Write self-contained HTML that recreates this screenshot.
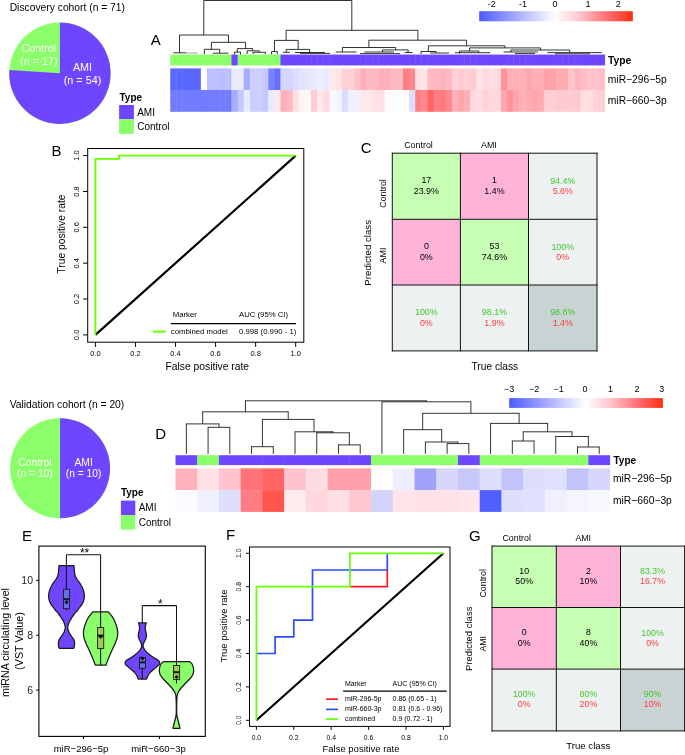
<!DOCTYPE html>
<html><head><meta charset="utf-8"><title>Figure</title>
<style>
html,body{margin:0;padding:0;background:#fff;}
body{width:685px;height:755px;overflow:hidden;font-family:"Liberation Sans",sans-serif;}
svg{display:block;will-change:transform;}
svg text{font-family:"Liberation Sans",sans-serif;}
</style></head><body>
<svg width="685" height="755" viewBox="0 0 685 755">
<rect x="0" y="0" width="685" height="755" fill="#fff"/>
<text x="9.70" y="11.30" font-size="10.3" text-anchor="start" fill="#000" >Discovery cohort (n = 71)</text>
<circle cx="59.9" cy="73.3" r="50.7" fill="#8AFF69"/>
<path d="M59.9,73.3 L59.9,22.599999999999994 A50.7,50.7 0 1 1 9.31,69.94 Z" fill="#7045FF" stroke="none" stroke-width="1" />
<text x="38.80" y="52.00" font-size="10.8" text-anchor="middle" fill="#fff" >Control</text>
<text x="38.80" y="64.90" font-size="10.8" text-anchor="middle" fill="#fff" >(n = 17)</text>
<text x="82.50" y="71.20" font-size="10.8" text-anchor="middle" fill="#fff" >AMI</text>
<text x="82.50" y="84.00" font-size="10.8" text-anchor="middle" fill="#fff" >(n = 54)</text>
<text x="119.50" y="100.90" font-size="10" text-anchor="start" fill="#000" font-weight="bold" >Type</text>
<rect x="119.10" y="105.00" width="14.80" height="14.30" fill="#7045FF" stroke="none" stroke-width="1" />
<rect x="119.10" y="119.30" width="14.80" height="14.60" fill="#8AFF69" stroke="none" stroke-width="1" />
<text x="137.20" y="115.60" font-size="10" text-anchor="start" fill="#000" >AMI</text>
<text x="137.20" y="130.30" font-size="10" text-anchor="start" fill="#000" >Control</text>
<text x="9.70" y="407.50" font-size="10.3" text-anchor="start" fill="#000" >Validation cohort (n = 20)</text>
<circle cx="60.05" cy="468.3" r="50" fill="#8AFF69"/>
<path d="M60.05,468.3 L60.05,418.3 A50,50 0 0 1 60.05,518.30 Z" fill="#7045FF" stroke="none" stroke-width="1" />
<text x="34.90" y="465.50" font-size="10.3" text-anchor="middle" fill="#fff" >Control</text>
<text x="34.90" y="477.20" font-size="10.3" text-anchor="middle" fill="#fff" >(n = 10)</text>
<text x="83.60" y="465.50" font-size="10.3" text-anchor="middle" fill="#fff" >AMI</text>
<text x="83.60" y="477.20" font-size="10.3" text-anchor="middle" fill="#fff" >(n = 10)</text>
<text x="120.90" y="496.20" font-size="10" text-anchor="start" fill="#000" font-weight="bold" >Type</text>
<rect x="120.90" y="500.60" width="14.40" height="14.50" fill="#7045FF" stroke="none" stroke-width="1" />
<rect x="120.90" y="515.10" width="14.40" height="14.40" fill="#8AFF69" stroke="none" stroke-width="1" />
<text x="138.70" y="511.10" font-size="10" text-anchor="start" fill="#000" >AMI</text>
<text x="138.70" y="525.60" font-size="10" text-anchor="start" fill="#000" >Control</text>
<text x="150.70" y="45.20" font-size="15" text-anchor="start" fill="#000" >A</text>
<text x="51.60" y="156.00" font-size="15" text-anchor="start" fill="#000" >B</text>
<text x="360.70" y="152.60" font-size="15" text-anchor="start" fill="#000" >C</text>
<text x="155.30" y="439.20" font-size="15" text-anchor="start" fill="#000" >D</text>
<text x="21.90" y="540.70" font-size="15" text-anchor="start" fill="#000" >E</text>
<text x="225.90" y="540.10" font-size="15" text-anchor="start" fill="#000" >F</text>
<text x="468.90" y="540.60" font-size="15" text-anchor="start" fill="#000" >G</text>
<g>
<rect x="170.25" y="54.60" width="6.52" height="10.80" fill="#8AFF69" stroke="none" stroke-width="1" />
<rect x="170.25" y="68.40" width="6.52" height="21.70" fill="rgb(91,104,255)" stroke="none" stroke-width="1" />
<rect x="170.25" y="90.00" width="6.52" height="21.80" fill="rgb(114,124,255)" stroke="none" stroke-width="1" />
<rect x="176.37" y="54.60" width="6.52" height="10.80" fill="#8AFF69" stroke="none" stroke-width="1" />
<rect x="176.37" y="68.40" width="6.52" height="21.70" fill="rgb(91,104,255)" stroke="none" stroke-width="1" />
<rect x="176.37" y="90.00" width="6.52" height="21.80" fill="rgb(114,124,255)" stroke="none" stroke-width="1" />
<rect x="182.50" y="54.60" width="6.52" height="10.80" fill="#8AFF69" stroke="none" stroke-width="1" />
<rect x="182.50" y="68.40" width="6.52" height="21.70" fill="rgb(91,104,255)" stroke="none" stroke-width="1" />
<rect x="182.50" y="90.00" width="6.52" height="21.80" fill="rgb(114,124,255)" stroke="none" stroke-width="1" />
<rect x="188.62" y="54.60" width="6.52" height="10.80" fill="#8AFF69" stroke="none" stroke-width="1" />
<rect x="188.62" y="68.40" width="6.52" height="21.70" fill="rgb(91,104,255)" stroke="none" stroke-width="1" />
<rect x="188.62" y="90.00" width="6.52" height="21.80" fill="rgb(114,124,255)" stroke="none" stroke-width="1" />
<rect x="194.75" y="54.60" width="6.52" height="10.80" fill="#8AFF69" stroke="none" stroke-width="1" />
<rect x="194.75" y="68.40" width="6.52" height="21.70" fill="rgb(91,104,255)" stroke="none" stroke-width="1" />
<rect x="194.75" y="90.00" width="6.52" height="21.80" fill="rgb(114,124,255)" stroke="none" stroke-width="1" />
<rect x="200.87" y="54.60" width="6.52" height="10.80" fill="#8AFF69" stroke="none" stroke-width="1" />
<rect x="200.87" y="68.40" width="6.52" height="21.70" fill="rgb(255,255,255)" stroke="none" stroke-width="1" />
<rect x="200.87" y="90.00" width="6.52" height="21.80" fill="rgb(114,124,255)" stroke="none" stroke-width="1" />
<rect x="206.99" y="54.60" width="6.52" height="10.80" fill="#8AFF69" stroke="none" stroke-width="1" />
<rect x="206.99" y="68.40" width="6.52" height="21.70" fill="rgb(189,192,255)" stroke="none" stroke-width="1" />
<rect x="206.99" y="90.00" width="6.52" height="21.80" fill="rgb(114,124,255)" stroke="none" stroke-width="1" />
<rect x="213.12" y="54.60" width="6.52" height="10.80" fill="#8AFF69" stroke="none" stroke-width="1" />
<rect x="213.12" y="68.40" width="6.52" height="21.70" fill="rgb(189,192,255)" stroke="none" stroke-width="1" />
<rect x="213.12" y="90.00" width="6.52" height="21.80" fill="rgb(114,124,255)" stroke="none" stroke-width="1" />
<rect x="219.24" y="54.60" width="6.52" height="10.80" fill="#8AFF69" stroke="none" stroke-width="1" />
<rect x="219.24" y="68.40" width="6.52" height="21.70" fill="rgb(186,189,255)" stroke="none" stroke-width="1" />
<rect x="219.24" y="90.00" width="6.52" height="21.80" fill="rgb(114,124,255)" stroke="none" stroke-width="1" />
<rect x="225.37" y="54.60" width="6.52" height="10.80" fill="#8AFF69" stroke="none" stroke-width="1" />
<rect x="225.37" y="68.40" width="6.52" height="21.70" fill="rgb(189,192,255)" stroke="none" stroke-width="1" />
<rect x="225.37" y="90.00" width="6.52" height="21.80" fill="rgb(114,124,255)" stroke="none" stroke-width="1" />
<rect x="231.49" y="54.60" width="6.52" height="10.80" fill="#7045FF" stroke="none" stroke-width="1" />
<rect x="231.49" y="68.40" width="6.52" height="21.70" fill="rgb(233,234,255)" stroke="none" stroke-width="1" />
<rect x="231.49" y="90.00" width="6.52" height="21.80" fill="rgb(168,172,255)" stroke="none" stroke-width="1" />
<rect x="237.61" y="54.60" width="6.52" height="10.80" fill="#8AFF69" stroke="none" stroke-width="1" />
<rect x="237.61" y="68.40" width="6.52" height="21.70" fill="rgb(233,234,255)" stroke="none" stroke-width="1" />
<rect x="237.61" y="90.00" width="6.52" height="21.80" fill="rgb(197,199,255)" stroke="none" stroke-width="1" />
<rect x="243.74" y="54.60" width="6.52" height="10.80" fill="#8AFF69" stroke="none" stroke-width="1" />
<rect x="243.74" y="68.40" width="6.52" height="21.70" fill="rgb(168,172,255)" stroke="none" stroke-width="1" />
<rect x="243.74" y="90.00" width="6.52" height="21.80" fill="rgb(233,234,255)" stroke="none" stroke-width="1" />
<rect x="249.86" y="54.60" width="6.52" height="10.80" fill="#8AFF69" stroke="none" stroke-width="1" />
<rect x="249.86" y="68.40" width="6.52" height="21.70" fill="rgb(204,206,255)" stroke="none" stroke-width="1" />
<rect x="249.86" y="90.00" width="6.52" height="21.80" fill="rgb(204,206,255)" stroke="none" stroke-width="1" />
<rect x="255.99" y="54.60" width="6.52" height="10.80" fill="#8AFF69" stroke="none" stroke-width="1" />
<rect x="255.99" y="68.40" width="6.52" height="21.70" fill="rgb(204,206,255)" stroke="none" stroke-width="1" />
<rect x="255.99" y="90.00" width="6.52" height="21.80" fill="rgb(204,206,255)" stroke="none" stroke-width="1" />
<rect x="262.11" y="54.60" width="6.52" height="10.80" fill="#8AFF69" stroke="none" stroke-width="1" />
<rect x="262.11" y="68.40" width="6.52" height="21.70" fill="rgb(197,199,255)" stroke="none" stroke-width="1" />
<rect x="262.11" y="90.00" width="6.52" height="21.80" fill="rgb(197,199,255)" stroke="none" stroke-width="1" />
<rect x="268.23" y="54.60" width="6.52" height="10.80" fill="#8AFF69" stroke="none" stroke-width="1" />
<rect x="268.23" y="68.40" width="6.52" height="21.70" fill="rgb(122,131,255)" stroke="none" stroke-width="1" />
<rect x="268.23" y="90.00" width="6.52" height="21.80" fill="rgb(233,234,255)" stroke="none" stroke-width="1" />
<rect x="274.36" y="54.60" width="6.52" height="10.80" fill="#8AFF69" stroke="none" stroke-width="1" />
<rect x="274.36" y="68.40" width="6.52" height="21.70" fill="rgb(99,111,255)" stroke="none" stroke-width="1" />
<rect x="274.36" y="90.00" width="6.52" height="21.80" fill="rgb(255,232,235)" stroke="none" stroke-width="1" />
<rect x="280.48" y="54.60" width="6.52" height="10.80" fill="#7045FF" stroke="none" stroke-width="1" />
<rect x="280.48" y="68.40" width="6.52" height="21.70" fill="rgb(211,213,255)" stroke="none" stroke-width="1" />
<rect x="280.48" y="90.00" width="6.52" height="21.80" fill="rgb(255,175,183)" stroke="none" stroke-width="1" />
<rect x="286.61" y="54.60" width="6.52" height="10.80" fill="#7045FF" stroke="none" stroke-width="1" />
<rect x="286.61" y="68.40" width="6.52" height="21.70" fill="rgb(211,213,255)" stroke="none" stroke-width="1" />
<rect x="286.61" y="90.00" width="6.52" height="21.80" fill="rgb(255,185,193)" stroke="none" stroke-width="1" />
<rect x="292.73" y="54.60" width="6.52" height="10.80" fill="#7045FF" stroke="none" stroke-width="1" />
<rect x="292.73" y="68.40" width="6.52" height="21.70" fill="rgb(219,220,255)" stroke="none" stroke-width="1" />
<rect x="292.73" y="90.00" width="6.52" height="21.80" fill="rgb(255,225,229)" stroke="none" stroke-width="1" />
<rect x="298.85" y="54.60" width="6.52" height="10.80" fill="#7045FF" stroke="none" stroke-width="1" />
<rect x="298.85" y="68.40" width="6.52" height="21.70" fill="rgb(226,227,255)" stroke="none" stroke-width="1" />
<rect x="298.85" y="90.00" width="6.52" height="21.80" fill="rgb(255,244,245)" stroke="none" stroke-width="1" />
<rect x="304.98" y="54.60" width="6.52" height="10.80" fill="#7045FF" stroke="none" stroke-width="1" />
<rect x="304.98" y="68.40" width="6.52" height="21.70" fill="rgb(230,231,255)" stroke="none" stroke-width="1" />
<rect x="304.98" y="90.00" width="6.52" height="21.80" fill="rgb(255,247,248)" stroke="none" stroke-width="1" />
<rect x="311.10" y="54.60" width="6.52" height="10.80" fill="#7045FF" stroke="none" stroke-width="1" />
<rect x="311.10" y="68.40" width="6.52" height="21.70" fill="rgb(233,234,255)" stroke="none" stroke-width="1" />
<rect x="311.10" y="90.00" width="6.52" height="21.80" fill="rgb(255,202,209)" stroke="none" stroke-width="1" />
<rect x="317.23" y="54.60" width="6.52" height="10.80" fill="#7045FF" stroke="none" stroke-width="1" />
<rect x="317.23" y="68.40" width="6.52" height="21.70" fill="rgb(237,238,255)" stroke="none" stroke-width="1" />
<rect x="317.23" y="90.00" width="6.52" height="21.80" fill="rgb(255,232,235)" stroke="none" stroke-width="1" />
<rect x="323.35" y="54.60" width="6.52" height="10.80" fill="#7045FF" stroke="none" stroke-width="1" />
<rect x="323.35" y="68.40" width="6.52" height="21.70" fill="rgb(233,234,255)" stroke="none" stroke-width="1" />
<rect x="323.35" y="90.00" width="6.52" height="21.80" fill="rgb(255,217,222)" stroke="none" stroke-width="1" />
<rect x="329.47" y="54.60" width="6.52" height="10.80" fill="#7045FF" stroke="none" stroke-width="1" />
<rect x="329.47" y="68.40" width="6.52" height="21.70" fill="rgb(255,232,235)" stroke="none" stroke-width="1" />
<rect x="329.47" y="90.00" width="6.52" height="21.80" fill="rgb(248,248,255)" stroke="none" stroke-width="1" />
<rect x="335.60" y="54.60" width="6.52" height="10.80" fill="#7045FF" stroke="none" stroke-width="1" />
<rect x="335.60" y="68.40" width="6.52" height="21.70" fill="rgb(255,229,232)" stroke="none" stroke-width="1" />
<rect x="335.60" y="90.00" width="6.52" height="21.80" fill="rgb(244,245,255)" stroke="none" stroke-width="1" />
<rect x="341.72" y="54.60" width="6.52" height="10.80" fill="#7045FF" stroke="none" stroke-width="1" />
<rect x="341.72" y="68.40" width="6.52" height="21.70" fill="rgb(255,210,216)" stroke="none" stroke-width="1" />
<rect x="341.72" y="90.00" width="6.52" height="21.80" fill="rgb(219,220,255)" stroke="none" stroke-width="1" />
<rect x="347.85" y="54.60" width="6.52" height="10.80" fill="#7045FF" stroke="none" stroke-width="1" />
<rect x="347.85" y="68.40" width="6.52" height="21.70" fill="rgb(255,210,216)" stroke="none" stroke-width="1" />
<rect x="347.85" y="90.00" width="6.52" height="21.80" fill="rgb(240,241,255)" stroke="none" stroke-width="1" />
<rect x="353.97" y="54.60" width="6.52" height="10.80" fill="#7045FF" stroke="none" stroke-width="1" />
<rect x="353.97" y="68.40" width="6.52" height="21.70" fill="rgb(255,195,203)" stroke="none" stroke-width="1" />
<rect x="353.97" y="90.00" width="6.52" height="21.80" fill="rgb(240,241,255)" stroke="none" stroke-width="1" />
<rect x="360.09" y="54.60" width="6.52" height="10.80" fill="#7045FF" stroke="none" stroke-width="1" />
<rect x="360.09" y="68.40" width="6.52" height="21.70" fill="rgb(255,175,183)" stroke="none" stroke-width="1" />
<rect x="360.09" y="90.00" width="6.52" height="21.80" fill="rgb(255,232,235)" stroke="none" stroke-width="1" />
<rect x="366.22" y="54.60" width="6.52" height="10.80" fill="#7045FF" stroke="none" stroke-width="1" />
<rect x="366.22" y="68.40" width="6.52" height="21.70" fill="rgb(255,185,193)" stroke="none" stroke-width="1" />
<rect x="366.22" y="90.00" width="6.52" height="21.80" fill="rgb(255,232,235)" stroke="none" stroke-width="1" />
<rect x="372.34" y="54.60" width="6.52" height="10.80" fill="#7045FF" stroke="none" stroke-width="1" />
<rect x="372.34" y="68.40" width="6.52" height="21.70" fill="rgb(255,185,193)" stroke="none" stroke-width="1" />
<rect x="372.34" y="90.00" width="6.52" height="21.80" fill="rgb(255,225,229)" stroke="none" stroke-width="1" />
<rect x="378.47" y="54.60" width="6.52" height="10.80" fill="#7045FF" stroke="none" stroke-width="1" />
<rect x="378.47" y="68.40" width="6.52" height="21.70" fill="rgb(255,175,183)" stroke="none" stroke-width="1" />
<rect x="378.47" y="90.00" width="6.52" height="21.80" fill="rgb(255,225,229)" stroke="none" stroke-width="1" />
<rect x="384.59" y="54.60" width="6.52" height="10.80" fill="#7045FF" stroke="none" stroke-width="1" />
<rect x="384.59" y="68.40" width="6.52" height="21.70" fill="rgb(255,175,183)" stroke="none" stroke-width="1" />
<rect x="384.59" y="90.00" width="6.52" height="21.80" fill="rgb(255,251,252)" stroke="none" stroke-width="1" />
<rect x="390.71" y="54.60" width="6.52" height="10.80" fill="#7045FF" stroke="none" stroke-width="1" />
<rect x="390.71" y="68.40" width="6.52" height="21.70" fill="rgb(255,185,193)" stroke="none" stroke-width="1" />
<rect x="390.71" y="90.00" width="6.52" height="21.80" fill="rgb(251,252,255)" stroke="none" stroke-width="1" />
<rect x="396.84" y="54.60" width="6.52" height="10.80" fill="#7045FF" stroke="none" stroke-width="1" />
<rect x="396.84" y="68.40" width="6.52" height="21.70" fill="rgb(255,185,193)" stroke="none" stroke-width="1" />
<rect x="396.84" y="90.00" width="6.52" height="21.80" fill="rgb(255,253,254)" stroke="none" stroke-width="1" />
<rect x="402.96" y="54.60" width="6.52" height="10.80" fill="#7045FF" stroke="none" stroke-width="1" />
<rect x="402.96" y="68.40" width="6.52" height="21.70" fill="rgb(255,126,132)" stroke="none" stroke-width="1" />
<rect x="402.96" y="90.00" width="6.52" height="21.80" fill="rgb(255,253,254)" stroke="none" stroke-width="1" />
<rect x="409.09" y="54.60" width="6.52" height="10.80" fill="#7045FF" stroke="none" stroke-width="1" />
<rect x="409.09" y="68.40" width="6.52" height="21.70" fill="rgb(255,136,143)" stroke="none" stroke-width="1" />
<rect x="409.09" y="90.00" width="6.52" height="21.80" fill="rgb(219,220,255)" stroke="none" stroke-width="1" />
<rect x="415.21" y="54.60" width="6.52" height="10.80" fill="#7045FF" stroke="none" stroke-width="1" />
<rect x="415.21" y="68.40" width="6.52" height="21.70" fill="rgb(255,225,229)" stroke="none" stroke-width="1" />
<rect x="415.21" y="90.00" width="6.52" height="21.80" fill="rgb(255,126,132)" stroke="none" stroke-width="1" />
<rect x="421.33" y="54.60" width="6.52" height="10.80" fill="#7045FF" stroke="none" stroke-width="1" />
<rect x="421.33" y="68.40" width="6.52" height="21.70" fill="rgb(255,229,232)" stroke="none" stroke-width="1" />
<rect x="421.33" y="90.00" width="6.52" height="21.80" fill="rgb(255,136,143)" stroke="none" stroke-width="1" />
<rect x="427.46" y="54.60" width="6.52" height="10.80" fill="#7045FF" stroke="none" stroke-width="1" />
<rect x="427.46" y="68.40" width="6.52" height="21.70" fill="rgb(255,185,193)" stroke="none" stroke-width="1" />
<rect x="427.46" y="90.00" width="6.52" height="21.80" fill="rgb(255,99,98)" stroke="none" stroke-width="1" />
<rect x="433.58" y="54.60" width="6.52" height="10.80" fill="#7045FF" stroke="none" stroke-width="1" />
<rect x="433.58" y="68.40" width="6.52" height="21.70" fill="rgb(255,185,193)" stroke="none" stroke-width="1" />
<rect x="433.58" y="90.00" width="6.52" height="21.80" fill="rgb(255,126,132)" stroke="none" stroke-width="1" />
<rect x="439.71" y="54.60" width="6.52" height="10.80" fill="#7045FF" stroke="none" stroke-width="1" />
<rect x="439.71" y="68.40" width="6.52" height="21.70" fill="rgb(255,180,188)" stroke="none" stroke-width="1" />
<rect x="439.71" y="90.00" width="6.52" height="21.80" fill="rgb(255,121,127)" stroke="none" stroke-width="1" />
<rect x="445.83" y="54.60" width="6.52" height="10.80" fill="#7045FF" stroke="none" stroke-width="1" />
<rect x="445.83" y="68.40" width="6.52" height="21.70" fill="rgb(255,185,193)" stroke="none" stroke-width="1" />
<rect x="445.83" y="90.00" width="6.52" height="21.80" fill="rgb(255,136,143)" stroke="none" stroke-width="1" />
<rect x="451.95" y="54.60" width="6.52" height="10.80" fill="#7045FF" stroke="none" stroke-width="1" />
<rect x="451.95" y="68.40" width="6.52" height="21.70" fill="rgb(255,210,216)" stroke="none" stroke-width="1" />
<rect x="451.95" y="90.00" width="6.52" height="21.80" fill="rgb(255,175,183)" stroke="none" stroke-width="1" />
<rect x="458.08" y="54.60" width="6.52" height="10.80" fill="#7045FF" stroke="none" stroke-width="1" />
<rect x="458.08" y="68.40" width="6.52" height="21.70" fill="rgb(255,202,209)" stroke="none" stroke-width="1" />
<rect x="458.08" y="90.00" width="6.52" height="21.80" fill="rgb(255,166,173)" stroke="none" stroke-width="1" />
<rect x="464.20" y="54.60" width="6.52" height="10.80" fill="#7045FF" stroke="none" stroke-width="1" />
<rect x="464.20" y="68.40" width="6.52" height="21.70" fill="rgb(255,210,216)" stroke="none" stroke-width="1" />
<rect x="464.20" y="90.00" width="6.52" height="21.80" fill="rgb(255,175,183)" stroke="none" stroke-width="1" />
<rect x="470.33" y="54.60" width="6.52" height="10.80" fill="#7045FF" stroke="none" stroke-width="1" />
<rect x="470.33" y="68.40" width="6.52" height="21.70" fill="rgb(255,202,209)" stroke="none" stroke-width="1" />
<rect x="470.33" y="90.00" width="6.52" height="21.80" fill="rgb(255,217,222)" stroke="none" stroke-width="1" />
<rect x="476.45" y="54.60" width="6.52" height="10.80" fill="#7045FF" stroke="none" stroke-width="1" />
<rect x="476.45" y="68.40" width="6.52" height="21.70" fill="rgb(255,229,232)" stroke="none" stroke-width="1" />
<rect x="476.45" y="90.00" width="6.52" height="21.80" fill="rgb(255,221,226)" stroke="none" stroke-width="1" />
<rect x="482.57" y="54.60" width="6.52" height="10.80" fill="#7045FF" stroke="none" stroke-width="1" />
<rect x="482.57" y="68.40" width="6.52" height="21.70" fill="rgb(255,217,222)" stroke="none" stroke-width="1" />
<rect x="482.57" y="90.00" width="6.52" height="21.80" fill="rgb(255,210,216)" stroke="none" stroke-width="1" />
<rect x="488.70" y="54.60" width="6.52" height="10.80" fill="#7045FF" stroke="none" stroke-width="1" />
<rect x="488.70" y="68.40" width="6.52" height="21.70" fill="rgb(255,221,226)" stroke="none" stroke-width="1" />
<rect x="488.70" y="90.00" width="6.52" height="21.80" fill="rgb(255,217,222)" stroke="none" stroke-width="1" />
<rect x="494.82" y="54.60" width="6.52" height="10.80" fill="#7045FF" stroke="none" stroke-width="1" />
<rect x="494.82" y="68.40" width="6.52" height="21.70" fill="rgb(255,217,222)" stroke="none" stroke-width="1" />
<rect x="494.82" y="90.00" width="6.52" height="21.80" fill="rgb(255,217,222)" stroke="none" stroke-width="1" />
<rect x="500.95" y="54.60" width="6.52" height="10.80" fill="#7045FF" stroke="none" stroke-width="1" />
<rect x="500.95" y="68.40" width="6.52" height="21.70" fill="rgb(255,146,153)" stroke="none" stroke-width="1" />
<rect x="500.95" y="90.00" width="6.52" height="21.80" fill="rgb(255,166,173)" stroke="none" stroke-width="1" />
<rect x="507.07" y="54.60" width="6.52" height="10.80" fill="#7045FF" stroke="none" stroke-width="1" />
<rect x="507.07" y="68.40" width="6.52" height="21.70" fill="rgb(255,175,183)" stroke="none" stroke-width="1" />
<rect x="507.07" y="90.00" width="6.52" height="21.80" fill="rgb(255,146,153)" stroke="none" stroke-width="1" />
<rect x="513.19" y="54.60" width="6.52" height="10.80" fill="#7045FF" stroke="none" stroke-width="1" />
<rect x="513.19" y="68.40" width="6.52" height="21.70" fill="rgb(255,175,183)" stroke="none" stroke-width="1" />
<rect x="513.19" y="90.00" width="6.52" height="21.80" fill="rgb(255,166,173)" stroke="none" stroke-width="1" />
<rect x="519.32" y="54.60" width="6.52" height="10.80" fill="#7045FF" stroke="none" stroke-width="1" />
<rect x="519.32" y="68.40" width="6.52" height="21.70" fill="rgb(255,175,183)" stroke="none" stroke-width="1" />
<rect x="519.32" y="90.00" width="6.52" height="21.80" fill="rgb(255,175,183)" stroke="none" stroke-width="1" />
<rect x="525.44" y="54.60" width="6.52" height="10.80" fill="#7045FF" stroke="none" stroke-width="1" />
<rect x="525.44" y="68.40" width="6.52" height="21.70" fill="rgb(255,166,173)" stroke="none" stroke-width="1" />
<rect x="525.44" y="90.00" width="6.52" height="21.80" fill="rgb(255,171,178)" stroke="none" stroke-width="1" />
<rect x="531.57" y="54.60" width="6.52" height="10.80" fill="#7045FF" stroke="none" stroke-width="1" />
<rect x="531.57" y="68.40" width="6.52" height="21.70" fill="rgb(255,175,183)" stroke="none" stroke-width="1" />
<rect x="531.57" y="90.00" width="6.52" height="21.80" fill="rgb(255,166,173)" stroke="none" stroke-width="1" />
<rect x="537.69" y="54.60" width="6.52" height="10.80" fill="#7045FF" stroke="none" stroke-width="1" />
<rect x="537.69" y="68.40" width="6.52" height="21.70" fill="rgb(255,175,183)" stroke="none" stroke-width="1" />
<rect x="537.69" y="90.00" width="6.52" height="21.80" fill="rgb(255,171,178)" stroke="none" stroke-width="1" />
<rect x="543.81" y="54.60" width="6.52" height="10.80" fill="#7045FF" stroke="none" stroke-width="1" />
<rect x="543.81" y="68.40" width="6.52" height="21.70" fill="rgb(255,161,168)" stroke="none" stroke-width="1" />
<rect x="543.81" y="90.00" width="6.52" height="21.80" fill="rgb(255,206,213)" stroke="none" stroke-width="1" />
<rect x="549.94" y="54.60" width="6.52" height="10.80" fill="#7045FF" stroke="none" stroke-width="1" />
<rect x="549.94" y="68.40" width="6.52" height="21.70" fill="rgb(255,161,168)" stroke="none" stroke-width="1" />
<rect x="549.94" y="90.00" width="6.52" height="21.80" fill="rgb(255,206,213)" stroke="none" stroke-width="1" />
<rect x="556.06" y="54.60" width="6.52" height="10.80" fill="#7045FF" stroke="none" stroke-width="1" />
<rect x="556.06" y="68.40" width="6.52" height="21.70" fill="rgb(255,171,178)" stroke="none" stroke-width="1" />
<rect x="556.06" y="90.00" width="6.52" height="21.80" fill="rgb(255,202,209)" stroke="none" stroke-width="1" />
<rect x="562.19" y="54.60" width="6.52" height="10.80" fill="#7045FF" stroke="none" stroke-width="1" />
<rect x="562.19" y="68.40" width="6.52" height="21.70" fill="rgb(255,171,178)" stroke="none" stroke-width="1" />
<rect x="562.19" y="90.00" width="6.52" height="21.80" fill="rgb(255,202,209)" stroke="none" stroke-width="1" />
<rect x="568.31" y="54.60" width="6.52" height="10.80" fill="#7045FF" stroke="none" stroke-width="1" />
<rect x="568.31" y="68.40" width="6.52" height="21.70" fill="rgb(255,195,203)" stroke="none" stroke-width="1" />
<rect x="568.31" y="90.00" width="6.52" height="21.80" fill="rgb(255,202,209)" stroke="none" stroke-width="1" />
<rect x="574.43" y="54.60" width="6.52" height="10.80" fill="#7045FF" stroke="none" stroke-width="1" />
<rect x="574.43" y="68.40" width="6.52" height="21.70" fill="rgb(255,180,188)" stroke="none" stroke-width="1" />
<rect x="574.43" y="90.00" width="6.52" height="21.80" fill="rgb(255,199,206)" stroke="none" stroke-width="1" />
<rect x="580.56" y="54.60" width="6.52" height="10.80" fill="#7045FF" stroke="none" stroke-width="1" />
<rect x="580.56" y="68.40" width="6.52" height="21.70" fill="rgb(255,190,198)" stroke="none" stroke-width="1" />
<rect x="580.56" y="90.00" width="6.52" height="21.80" fill="rgb(255,221,226)" stroke="none" stroke-width="1" />
<rect x="586.68" y="54.60" width="6.52" height="10.80" fill="#7045FF" stroke="none" stroke-width="1" />
<rect x="586.68" y="68.40" width="6.52" height="21.70" fill="rgb(255,195,203)" stroke="none" stroke-width="1" />
<rect x="586.68" y="90.00" width="6.52" height="21.80" fill="rgb(255,221,226)" stroke="none" stroke-width="1" />
<rect x="592.81" y="54.60" width="6.52" height="10.80" fill="#7045FF" stroke="none" stroke-width="1" />
<rect x="592.81" y="68.40" width="6.52" height="21.70" fill="rgb(255,195,203)" stroke="none" stroke-width="1" />
<rect x="592.81" y="90.00" width="6.52" height="21.80" fill="rgb(255,210,216)" stroke="none" stroke-width="1" />
<rect x="598.93" y="54.60" width="6.12" height="10.80" fill="#7045FF" stroke="none" stroke-width="1" />
<rect x="598.93" y="68.40" width="6.12" height="21.70" fill="rgb(255,190,198)" stroke="none" stroke-width="1" />
<rect x="598.93" y="90.00" width="6.12" height="21.80" fill="rgb(255,206,213)" stroke="none" stroke-width="1" />
</g>
<text x="608.00" y="63.90" font-size="10.3" text-anchor="start" fill="#000" font-weight="bold" >Type</text>
<text x="607.80" y="82.50" font-size="10.3" text-anchor="start" fill="#000" >miR−296−5p</text>
<text x="607.80" y="104.10" font-size="10.3" text-anchor="start" fill="#000" >miR−660−3p</text>
<defs><linearGradient id="gA" x1="0" x2="1" y1="0" y2="0"><stop offset="0.000" stop-color="rgb(77,91,255)"/><stop offset="0.025" stop-color="rgb(86,99,255)"/><stop offset="0.050" stop-color="rgb(95,107,255)"/><stop offset="0.075" stop-color="rgb(105,116,255)"/><stop offset="0.100" stop-color="rgb(114,124,255)"/><stop offset="0.125" stop-color="rgb(123,132,255)"/><stop offset="0.150" stop-color="rgb(132,140,255)"/><stop offset="0.175" stop-color="rgb(142,149,255)"/><stop offset="0.200" stop-color="rgb(151,157,255)"/><stop offset="0.225" stop-color="rgb(160,165,255)"/><stop offset="0.250" stop-color="rgb(169,173,255)"/><stop offset="0.275" stop-color="rgb(178,182,255)"/><stop offset="0.300" stop-color="rgb(187,190,255)"/><stop offset="0.325" stop-color="rgb(196,198,255)"/><stop offset="0.350" stop-color="rgb(205,207,255)"/><stop offset="0.375" stop-color="rgb(213,215,255)"/><stop offset="0.400" stop-color="rgb(222,224,255)"/><stop offset="0.425" stop-color="rgb(231,232,255)"/><stop offset="0.450" stop-color="rgb(240,241,255)"/><stop offset="0.475" stop-color="rgb(249,249,255)"/><stop offset="0.500" stop-color="rgb(255,252,253)"/><stop offset="0.525" stop-color="rgb(255,243,245)"/><stop offset="0.550" stop-color="rgb(255,234,237)"/><stop offset="0.575" stop-color="rgb(255,225,229)"/><stop offset="0.600" stop-color="rgb(255,216,221)"/><stop offset="0.625" stop-color="rgb(255,207,213)"/><stop offset="0.650" stop-color="rgb(255,198,205)"/><stop offset="0.675" stop-color="rgb(255,187,195)"/><stop offset="0.700" stop-color="rgb(255,175,182)"/><stop offset="0.725" stop-color="rgb(255,163,170)"/><stop offset="0.750" stop-color="rgb(255,151,158)"/><stop offset="0.775" stop-color="rgb(255,139,146)"/><stop offset="0.800" stop-color="rgb(255,127,133)"/><stop offset="0.825" stop-color="rgb(255,115,121)"/><stop offset="0.850" stop-color="rgb(255,105,106)"/><stop offset="0.875" stop-color="rgb(255,95,91)"/><stop offset="0.900" stop-color="rgb(255,85,76)"/><stop offset="0.925" stop-color="rgb(255,75,61)"/><stop offset="0.950" stop-color="rgb(255,65,45)"/><stop offset="0.975" stop-color="rgb(255,55,30)"/><stop offset="1.000" stop-color="rgb(255,45,15)"/></linearGradient><linearGradient id="gD" x1="0" x2="1" y1="0" y2="0"><stop offset="0.000" stop-color="rgb(77,91,255)"/><stop offset="0.025" stop-color="rgb(86,99,255)"/><stop offset="0.050" stop-color="rgb(95,107,255)"/><stop offset="0.075" stop-color="rgb(104,115,255)"/><stop offset="0.100" stop-color="rgb(114,124,255)"/><stop offset="0.125" stop-color="rgb(123,132,255)"/><stop offset="0.150" stop-color="rgb(132,140,255)"/><stop offset="0.175" stop-color="rgb(141,148,255)"/><stop offset="0.200" stop-color="rgb(150,156,255)"/><stop offset="0.225" stop-color="rgb(159,164,255)"/><stop offset="0.250" stop-color="rgb(168,172,255)"/><stop offset="0.275" stop-color="rgb(177,181,255)"/><stop offset="0.300" stop-color="rgb(186,189,255)"/><stop offset="0.325" stop-color="rgb(195,197,255)"/><stop offset="0.350" stop-color="rgb(203,206,255)"/><stop offset="0.375" stop-color="rgb(212,214,255)"/><stop offset="0.400" stop-color="rgb(221,222,255)"/><stop offset="0.425" stop-color="rgb(230,231,255)"/><stop offset="0.450" stop-color="rgb(238,239,255)"/><stop offset="0.475" stop-color="rgb(247,247,255)"/><stop offset="0.500" stop-color="rgb(255,254,254)"/><stop offset="0.525" stop-color="rgb(255,245,246)"/><stop offset="0.550" stop-color="rgb(255,236,238)"/><stop offset="0.575" stop-color="rgb(255,226,230)"/><stop offset="0.600" stop-color="rgb(255,217,222)"/><stop offset="0.625" stop-color="rgb(255,208,214)"/><stop offset="0.650" stop-color="rgb(255,199,206)"/><stop offset="0.675" stop-color="rgb(255,188,196)"/><stop offset="0.700" stop-color="rgb(255,176,184)"/><stop offset="0.725" stop-color="rgb(255,164,172)"/><stop offset="0.750" stop-color="rgb(255,152,159)"/><stop offset="0.775" stop-color="rgb(255,140,147)"/><stop offset="0.800" stop-color="rgb(255,128,134)"/><stop offset="0.825" stop-color="rgb(255,116,122)"/><stop offset="0.850" stop-color="rgb(255,106,107)"/><stop offset="0.875" stop-color="rgb(255,95,92)"/><stop offset="0.900" stop-color="rgb(255,85,76)"/><stop offset="0.925" stop-color="rgb(255,75,61)"/><stop offset="0.950" stop-color="rgb(255,65,46)"/><stop offset="0.975" stop-color="rgb(255,55,30)"/><stop offset="1.000" stop-color="rgb(255,45,15)"/></linearGradient></defs>
<rect x="479.20" y="11.20" width="153.60" height="10.10" fill="url(#gA)" stroke="none" stroke-width="1" />
<text x="491.80" y="7.40" font-size="9" text-anchor="middle" fill="#000" >-2</text>
<text x="522.90" y="7.40" font-size="9" text-anchor="middle" fill="#000" >-1</text>
<text x="555.10" y="7.40" font-size="9" text-anchor="middle" fill="#000" >0</text>
<text x="588.10" y="7.40" font-size="9" text-anchor="middle" fill="#000" >1</text>
<text x="618.20" y="7.40" font-size="9" text-anchor="middle" fill="#000" >2</text>
<line x1="203.80" y1="0.50" x2="351.80" y2="0.50" stroke="#000" stroke-width="0.8" />
<line x1="203.80" y1="0.50" x2="203.80" y2="35.00" stroke="#000" stroke-width="0.8" />
<line x1="351.80" y1="0.50" x2="351.80" y2="30.30" stroke="#000" stroke-width="0.8" />
<line x1="179.50" y1="35.00" x2="228.50" y2="35.00" stroke="#000" stroke-width="0.8" />
<line x1="179.50" y1="35.00" x2="179.50" y2="52.60" stroke="#000" stroke-width="0.8" />
<line x1="173.30" y1="52.80" x2="186.00" y2="52.80" stroke="#000" stroke-width="0.8" />
<line x1="186.00" y1="53.00" x2="197.80" y2="53.00" stroke="#777" stroke-width="0.7" />
<line x1="228.50" y1="35.00" x2="228.50" y2="42.30" stroke="#000" stroke-width="0.8" />
<line x1="211.40" y1="42.30" x2="245.60" y2="42.30" stroke="#000" stroke-width="0.8" />
<line x1="211.40" y1="42.30" x2="211.40" y2="49.30" stroke="#000" stroke-width="0.8" />
<line x1="204.40" y1="49.30" x2="219.70" y2="49.30" stroke="#000" stroke-width="0.8" />
<line x1="204.40" y1="49.30" x2="204.40" y2="54.00" stroke="#000" stroke-width="0.8" />
<line x1="219.70" y1="49.30" x2="219.70" y2="53.20" stroke="#000" stroke-width="0.8" />
<line x1="212.70" y1="53.20" x2="228.40" y2="53.20" stroke="#000" stroke-width="0.8" />
<line x1="245.60" y1="42.30" x2="245.60" y2="48.60" stroke="#000" stroke-width="0.8" />
<line x1="237.30" y1="48.60" x2="252.60" y2="48.60" stroke="#000" stroke-width="0.8" />
<line x1="237.30" y1="48.60" x2="237.30" y2="52.10" stroke="#000" stroke-width="0.8" />
<line x1="234.60" y1="52.10" x2="240.50" y2="52.10" stroke="#000" stroke-width="0.8" />
<line x1="234.60" y1="52.10" x2="234.60" y2="54.50" stroke="#000" stroke-width="0.8" />
<line x1="240.50" y1="52.10" x2="240.50" y2="54.50" stroke="#000" stroke-width="0.8" />
<line x1="252.60" y1="48.60" x2="252.60" y2="50.80" stroke="#000" stroke-width="0.8" />
<line x1="247.10" y1="50.80" x2="259.20" y2="50.80" stroke="#000" stroke-width="0.8" />
<line x1="247.10" y1="50.80" x2="247.10" y2="54.00" stroke="#000" stroke-width="0.8" />
<line x1="259.20" y1="50.80" x2="259.20" y2="52.30" stroke="#000" stroke-width="0.8" />
<line x1="253.00" y1="52.30" x2="265.50" y2="52.30" stroke="#000" stroke-width="0.8" />
<line x1="253.00" y1="52.30" x2="253.00" y2="54.00" stroke="#000" stroke-width="0.8" />
<line x1="265.50" y1="52.30" x2="265.50" y2="54.00" stroke="#000" stroke-width="0.8" />
<line x1="286.10" y1="30.30" x2="417.90" y2="30.30" stroke="#000" stroke-width="0.8" />
<line x1="286.10" y1="30.30" x2="286.10" y2="40.40" stroke="#000" stroke-width="0.8" />
<line x1="417.90" y1="30.30" x2="417.90" y2="40.20" stroke="#000" stroke-width="0.8" />
<line x1="274.50" y1="40.40" x2="298.20" y2="40.40" stroke="#000" stroke-width="0.8" />
<line x1="274.50" y1="40.40" x2="274.50" y2="51.50" stroke="#000" stroke-width="0.8" />
<line x1="271.60" y1="51.50" x2="277.30" y2="51.50" stroke="#000" stroke-width="0.8" />
<line x1="271.60" y1="51.50" x2="271.60" y2="54.30" stroke="#000" stroke-width="0.8" />
<line x1="277.30" y1="51.50" x2="277.30" y2="54.30" stroke="#000" stroke-width="0.8" />
<line x1="298.20" y1="40.40" x2="298.20" y2="49.40" stroke="#000" stroke-width="0.8" />
<line x1="286.30" y1="49.40" x2="309.60" y2="49.40" stroke="#000" stroke-width="0.8" />
<line x1="286.30" y1="49.40" x2="286.30" y2="52.30" stroke="#000" stroke-width="0.8" />
<line x1="283.00" y1="52.30" x2="290.00" y2="52.30" stroke="#000" stroke-width="0.8" />
<line x1="309.60" y1="49.40" x2="309.60" y2="52.50" stroke="#000" stroke-width="0.8" />
<line x1="295.00" y1="52.50" x2="325.00" y2="52.50" stroke="#000" stroke-width="0.8" />
<line x1="368.90" y1="40.20" x2="466.60" y2="40.20" stroke="#000" stroke-width="0.8" />
<line x1="368.90" y1="40.20" x2="368.90" y2="47.50" stroke="#000" stroke-width="0.8" />
<line x1="342.40" y1="47.50" x2="395.60" y2="47.50" stroke="#000" stroke-width="0.8" />
<line x1="342.40" y1="47.50" x2="342.40" y2="52.00" stroke="#000" stroke-width="0.8" />
<line x1="335.80" y1="52.00" x2="356.60" y2="52.00" stroke="#000" stroke-width="0.8" />
<line x1="395.60" y1="47.50" x2="395.60" y2="49.90" stroke="#000" stroke-width="0.8" />
<line x1="382.50" y1="49.90" x2="408.10" y2="49.90" stroke="#000" stroke-width="0.8" />
<line x1="382.50" y1="49.90" x2="382.50" y2="52.00" stroke="#000" stroke-width="0.8" />
<line x1="364.30" y1="52.00" x2="393.90" y2="52.00" stroke="#000" stroke-width="0.8" />
<line x1="408.10" y1="49.90" x2="408.10" y2="52.50" stroke="#000" stroke-width="0.8" />
<line x1="404.80" y1="52.50" x2="412.50" y2="52.50" stroke="#000" stroke-width="0.8" />
<line x1="466.60" y1="40.20" x2="466.60" y2="45.80" stroke="#000" stroke-width="0.8" />
<line x1="428.40" y1="45.80" x2="504.80" y2="45.80" stroke="#000" stroke-width="0.8" />
<line x1="428.40" y1="45.80" x2="428.40" y2="51.50" stroke="#000" stroke-width="0.8" />
<line x1="421.00" y1="51.50" x2="436.00" y2="51.50" stroke="#000" stroke-width="0.8" />
<line x1="421.00" y1="51.50" x2="421.00" y2="54.00" stroke="#000" stroke-width="0.8" />
<line x1="436.00" y1="51.50" x2="436.00" y2="53.00" stroke="#000" stroke-width="0.8" />
<line x1="430.00" y1="53.00" x2="449.00" y2="53.00" stroke="#000" stroke-width="0.8" />
<line x1="504.80" y1="45.80" x2="504.80" y2="47.90" stroke="#000" stroke-width="0.8" />
<line x1="469.60" y1="47.90" x2="540.60" y2="47.90" stroke="#000" stroke-width="0.8" />
<line x1="469.60" y1="47.90" x2="469.60" y2="51.00" stroke="#000" stroke-width="0.8" />
<line x1="459.60" y1="51.00" x2="478.80" y2="51.00" stroke="#000" stroke-width="0.8" />
<line x1="459.60" y1="51.00" x2="459.60" y2="53.50" stroke="#000" stroke-width="0.8" />
<line x1="478.80" y1="51.00" x2="478.80" y2="52.50" stroke="#000" stroke-width="0.8" />
<line x1="455.00" y1="52.70" x2="490.00" y2="52.70" stroke="#000" stroke-width="0.8" />
<line x1="540.60" y1="47.90" x2="540.60" y2="50.00" stroke="#000" stroke-width="0.8" />
<line x1="510.90" y1="50.00" x2="569.70" y2="50.00" stroke="#000" stroke-width="0.8" />
<line x1="510.90" y1="50.00" x2="510.90" y2="52.00" stroke="#000" stroke-width="0.8" />
<line x1="503.50" y1="52.00" x2="537.70" y2="52.00" stroke="#000" stroke-width="0.8" />
<line x1="569.70" y1="50.00" x2="569.70" y2="52.40" stroke="#000" stroke-width="0.8" />
<line x1="547.30" y1="52.60" x2="601.60" y2="52.60" stroke="#000" stroke-width="0.8" />
<line x1="300.00" y1="53.40" x2="330.00" y2="53.40" stroke="#000" stroke-width="0.8" />
<line x1="360.00" y1="53.60" x2="400.00" y2="53.60" stroke="#000" stroke-width="0.8" />
<line x1="515.00" y1="53.60" x2="535.00" y2="53.60" stroke="#000" stroke-width="0.8" />
<line x1="555.00" y1="53.80" x2="590.00" y2="53.80" stroke="#000" stroke-width="0.8" />
<rect x="87.70" y="148.50" width="216.10" height="193.70" fill="none" stroke="#000" stroke-width="1" />
<line x1="95.40" y1="342.20" x2="95.40" y2="346.80" stroke="#000" stroke-width="1" />
<line x1="87.70" y1="334.90" x2="83.10" y2="334.90" stroke="#000" stroke-width="1" />
<text x="95.40" y="356.00" font-size="7.5" text-anchor="middle" fill="#000" >0.0</text>
<text x="79.40" y="334.90" font-size="7.5" text-anchor="middle" fill="#000" transform="rotate(-90 79.40 334.90)" >0.0</text>
<line x1="135.46" y1="342.20" x2="135.46" y2="346.80" stroke="#000" stroke-width="1" />
<line x1="87.70" y1="299.04" x2="83.10" y2="299.04" stroke="#000" stroke-width="1" />
<text x="135.46" y="356.00" font-size="7.5" text-anchor="middle" fill="#000" >0.2</text>
<text x="79.40" y="299.04" font-size="7.5" text-anchor="middle" fill="#000" transform="rotate(-90 79.40 299.04)" >0.2</text>
<line x1="175.52" y1="342.20" x2="175.52" y2="346.80" stroke="#000" stroke-width="1" />
<line x1="87.70" y1="263.18" x2="83.10" y2="263.18" stroke="#000" stroke-width="1" />
<text x="175.52" y="356.00" font-size="7.5" text-anchor="middle" fill="#000" >0.4</text>
<text x="79.40" y="263.18" font-size="7.5" text-anchor="middle" fill="#000" transform="rotate(-90 79.40 263.18)" >0.4</text>
<line x1="215.58" y1="342.20" x2="215.58" y2="346.80" stroke="#000" stroke-width="1" />
<line x1="87.70" y1="227.32" x2="83.10" y2="227.32" stroke="#000" stroke-width="1" />
<text x="215.58" y="356.00" font-size="7.5" text-anchor="middle" fill="#000" >0.6</text>
<text x="79.40" y="227.32" font-size="7.5" text-anchor="middle" fill="#000" transform="rotate(-90 79.40 227.32)" >0.6</text>
<line x1="255.64" y1="342.20" x2="255.64" y2="346.80" stroke="#000" stroke-width="1" />
<line x1="87.70" y1="191.46" x2="83.10" y2="191.46" stroke="#000" stroke-width="1" />
<text x="255.64" y="356.00" font-size="7.5" text-anchor="middle" fill="#000" >0.8</text>
<text x="79.40" y="191.46" font-size="7.5" text-anchor="middle" fill="#000" transform="rotate(-90 79.40 191.46)" >0.8</text>
<line x1="295.70" y1="342.20" x2="295.70" y2="346.80" stroke="#000" stroke-width="1" />
<line x1="87.70" y1="155.60" x2="83.10" y2="155.60" stroke="#000" stroke-width="1" />
<text x="295.70" y="356.00" font-size="7.5" text-anchor="middle" fill="#000" >1.0</text>
<text x="79.40" y="155.60" font-size="7.5" text-anchor="middle" fill="#000" transform="rotate(-90 79.40 155.60)" >1.0</text>
<line x1="95.40" y1="334.90" x2="295.70" y2="155.60" stroke="#000" stroke-width="2.2" stroke-linecap="butt"/>
<path d="M95.40,334.90 L95.40,158.92 L118.96,158.92 L118.96,155.60 L295.70,155.60" fill="none" stroke="#66FF00" stroke-width="1.9" stroke-linejoin="miter"/>
<text x="207.30" y="370.30" font-size="10.3" text-anchor="middle" fill="#000" >False positive rate</text>
<text x="64.80" y="234.00" font-size="10.3" text-anchor="middle" fill="#000" transform="rotate(-90 64.80 234.00)" >True positive rate</text>
<text x="172.70" y="317.20" font-size="7.75" text-anchor="start" fill="#000" >Marker</text>
<text x="239.00" y="317.20" font-size="7.75" text-anchor="start" fill="#000" >AUC (95% CI)</text>
<line x1="170.80" y1="323.60" x2="296.00" y2="323.60" stroke="#000" stroke-width="1.1" />
<line x1="152.80" y1="331.60" x2="165.80" y2="331.60" stroke="#66FF00" stroke-width="2.0" />
<text x="170.80" y="333.70" font-size="7.75" text-anchor="start" fill="#000" >combined model</text>
<text x="239.00" y="333.70" font-size="7.75" text-anchor="start" fill="#000" >0.998 (0.990 - 1)</text>
<rect x="392.30" y="153.20" width="68.10" height="66.10" fill="#C6FFB3" stroke="none" stroke-width="1" />
<rect x="460.40" y="153.20" width="68.10" height="66.10" fill="#FFB3D9" stroke="none" stroke-width="1" />
<rect x="528.50" y="153.20" width="68.50" height="66.10" fill="#EEF1F2" stroke="none" stroke-width="1" />
<rect x="392.30" y="219.30" width="68.10" height="65.70" fill="#FFB3D9" stroke="none" stroke-width="1" />
<rect x="460.40" y="219.30" width="68.10" height="65.70" fill="#C6FFB3" stroke="none" stroke-width="1" />
<rect x="528.50" y="219.30" width="68.50" height="65.70" fill="#EEF1F2" stroke="none" stroke-width="1" />
<rect x="392.30" y="285.00" width="68.10" height="65.90" fill="#EEF1F2" stroke="none" stroke-width="1" />
<rect x="460.40" y="285.00" width="68.10" height="65.90" fill="#EEF1F2" stroke="none" stroke-width="1" />
<rect x="528.50" y="285.00" width="68.50" height="65.90" fill="#C9D3D3" stroke="none" stroke-width="1" />
<line x1="392.30" y1="152.70" x2="392.30" y2="351.40" stroke="#111" stroke-width="1.0" />
<line x1="460.40" y1="152.70" x2="460.40" y2="351.40" stroke="#111" stroke-width="1.0" />
<line x1="528.50" y1="152.70" x2="528.50" y2="351.40" stroke="#111" stroke-width="1.0" />
<line x1="597.00" y1="152.70" x2="597.00" y2="351.40" stroke="#111" stroke-width="1.0" />
<line x1="391.80" y1="153.20" x2="597.50" y2="153.20" stroke="#111" stroke-width="1.0" />
<line x1="391.80" y1="219.30" x2="597.50" y2="219.30" stroke="#111" stroke-width="1.0" />
<line x1="391.80" y1="285.00" x2="597.50" y2="285.00" stroke="#111" stroke-width="1.0" />
<line x1="391.80" y1="350.90" x2="597.50" y2="350.90" stroke="#111" stroke-width="1.0" />
<text x="426.35" y="182.85" font-size="8.9" text-anchor="middle" fill="#000" >17</text>
<text x="426.35" y="193.85" font-size="8.9" text-anchor="middle" fill="#000" >23.9%</text>
<text x="494.45" y="182.85" font-size="8.9" text-anchor="middle" fill="#000" >1</text>
<text x="494.45" y="193.85" font-size="8.9" text-anchor="middle" fill="#000" >1.4%</text>
<text x="562.75" y="183.75" font-size="8.9" text-anchor="middle" fill="#44C82C" >94.4%</text>
<text x="562.75" y="194.45" font-size="8.9" text-anchor="middle" fill="#FF3B3B" >5.6%</text>
<text x="426.35" y="248.75" font-size="8.9" text-anchor="middle" fill="#000" >0</text>
<text x="426.35" y="259.75" font-size="8.9" text-anchor="middle" fill="#000" >0%</text>
<text x="494.45" y="248.75" font-size="8.9" text-anchor="middle" fill="#000" >53</text>
<text x="494.45" y="259.75" font-size="8.9" text-anchor="middle" fill="#000" >74.6%</text>
<text x="562.75" y="249.65" font-size="8.9" text-anchor="middle" fill="#44C82C" >100%</text>
<text x="562.75" y="260.35" font-size="8.9" text-anchor="middle" fill="#FF3B3B" >0%</text>
<text x="426.35" y="315.45" font-size="8.9" text-anchor="middle" fill="#44C82C" >100%</text>
<text x="426.35" y="326.15" font-size="8.9" text-anchor="middle" fill="#FF3B3B" >0%</text>
<text x="494.45" y="315.45" font-size="8.9" text-anchor="middle" fill="#44C82C" >98.1%</text>
<text x="494.45" y="326.15" font-size="8.9" text-anchor="middle" fill="#FF3B3B" >1.9%</text>
<text x="562.75" y="315.45" font-size="8.9" text-anchor="middle" fill="#44C82C" >98.6%</text>
<text x="562.75" y="326.15" font-size="8.9" text-anchor="middle" fill="#FF3B3B" >1.4%</text>
<text x="418.50" y="147.80" font-size="8.9" text-anchor="middle" fill="#000" >Control</text>
<text x="488.90" y="147.80" font-size="8.9" text-anchor="middle" fill="#000" >AMI</text>
<text x="386.20" y="193.50" font-size="8.9" text-anchor="middle" fill="#000" transform="rotate(-90 386.20 193.50)" >Control</text>
<text x="386.20" y="255.50" font-size="8.9" text-anchor="middle" fill="#000" transform="rotate(-90 386.20 255.50)" >AMI</text>
<text x="371.20" y="252.80" font-size="9.7" text-anchor="middle" fill="#000" transform="rotate(-90 371.20 252.80)" >Predicted class</text>
<text x="494.80" y="369.70" font-size="10.2" text-anchor="middle" fill="#000" >True class</text>
<g>
<rect x="175.50" y="455.20" width="22.13" height="9.90" fill="#7045FF" stroke="none" stroke-width="1" />
<rect x="175.50" y="468.40" width="22.13" height="21.80" fill="rgb(255,178,188)" stroke="none" stroke-width="1" />
<rect x="175.50" y="490.10" width="22.13" height="21.80" fill="rgb(250,250,255)" stroke="none" stroke-width="1" />
<rect x="197.23" y="455.20" width="22.13" height="9.90" fill="#8AFF69" stroke="none" stroke-width="1" />
<rect x="197.23" y="468.40" width="22.13" height="21.80" fill="rgb(255,225,230)" stroke="none" stroke-width="1" />
<rect x="197.23" y="490.10" width="22.13" height="21.80" fill="rgb(240,240,254)" stroke="none" stroke-width="1" />
<rect x="218.96" y="455.20" width="22.13" height="9.90" fill="#7045FF" stroke="none" stroke-width="1" />
<rect x="218.96" y="468.40" width="22.13" height="21.80" fill="rgb(255,195,205)" stroke="none" stroke-width="1" />
<rect x="218.96" y="490.10" width="22.13" height="21.80" fill="rgb(222,222,253)" stroke="none" stroke-width="1" />
<rect x="240.69" y="455.20" width="22.13" height="9.90" fill="#7045FF" stroke="none" stroke-width="1" />
<rect x="240.69" y="468.40" width="22.13" height="21.80" fill="rgb(255,115,120)" stroke="none" stroke-width="1" />
<rect x="240.69" y="490.10" width="22.13" height="21.80" fill="rgb(255,125,130)" stroke="none" stroke-width="1" />
<rect x="262.42" y="455.20" width="22.13" height="9.90" fill="#7045FF" stroke="none" stroke-width="1" />
<rect x="262.42" y="468.40" width="22.13" height="21.80" fill="rgb(255,100,100)" stroke="none" stroke-width="1" />
<rect x="262.42" y="490.10" width="22.13" height="21.80" fill="rgb(255,85,75)" stroke="none" stroke-width="1" />
<rect x="284.15" y="455.20" width="22.13" height="9.90" fill="#7045FF" stroke="none" stroke-width="1" />
<rect x="284.15" y="468.40" width="22.13" height="21.80" fill="rgb(255,195,205)" stroke="none" stroke-width="1" />
<rect x="284.15" y="490.10" width="22.13" height="21.80" fill="rgb(255,235,238)" stroke="none" stroke-width="1" />
<rect x="305.88" y="455.20" width="22.13" height="9.90" fill="#7045FF" stroke="none" stroke-width="1" />
<rect x="305.88" y="468.40" width="22.13" height="21.80" fill="rgb(255,220,226)" stroke="none" stroke-width="1" />
<rect x="305.88" y="490.10" width="22.13" height="21.80" fill="rgb(255,215,222)" stroke="none" stroke-width="1" />
<rect x="327.61" y="455.20" width="22.13" height="9.90" fill="#7045FF" stroke="none" stroke-width="1" />
<rect x="327.61" y="468.40" width="22.13" height="21.80" fill="rgb(255,160,170)" stroke="none" stroke-width="1" />
<rect x="327.61" y="490.10" width="22.13" height="21.80" fill="rgb(255,222,228)" stroke="none" stroke-width="1" />
<rect x="349.34" y="455.20" width="22.13" height="9.90" fill="#7045FF" stroke="none" stroke-width="1" />
<rect x="349.34" y="468.40" width="22.13" height="21.80" fill="rgb(255,160,172)" stroke="none" stroke-width="1" />
<rect x="349.34" y="490.10" width="22.13" height="21.80" fill="rgb(255,200,208)" stroke="none" stroke-width="1" />
<rect x="371.07" y="455.20" width="22.13" height="9.90" fill="#8AFF69" stroke="none" stroke-width="1" />
<rect x="371.07" y="468.40" width="22.13" height="21.80" fill="rgb(255,252,252)" stroke="none" stroke-width="1" />
<rect x="371.07" y="490.10" width="22.13" height="21.80" fill="rgb(210,210,252)" stroke="none" stroke-width="1" />
<rect x="392.80" y="455.20" width="22.13" height="9.90" fill="#8AFF69" stroke="none" stroke-width="1" />
<rect x="392.80" y="468.40" width="22.13" height="21.80" fill="rgb(238,238,254)" stroke="none" stroke-width="1" />
<rect x="392.80" y="490.10" width="22.13" height="21.80" fill="rgb(255,228,234)" stroke="none" stroke-width="1" />
<rect x="414.53" y="455.20" width="22.13" height="9.90" fill="#8AFF69" stroke="none" stroke-width="1" />
<rect x="414.53" y="468.40" width="22.13" height="21.80" fill="rgb(160,162,250)" stroke="none" stroke-width="1" />
<rect x="414.53" y="490.10" width="22.13" height="21.80" fill="rgb(255,225,232)" stroke="none" stroke-width="1" />
<rect x="436.26" y="455.20" width="22.13" height="9.90" fill="#8AFF69" stroke="none" stroke-width="1" />
<rect x="436.26" y="468.40" width="22.13" height="21.80" fill="rgb(215,215,252)" stroke="none" stroke-width="1" />
<rect x="436.26" y="490.10" width="22.13" height="21.80" fill="rgb(255,225,232)" stroke="none" stroke-width="1" />
<rect x="457.99" y="455.20" width="22.13" height="9.90" fill="#7045FF" stroke="none" stroke-width="1" />
<rect x="457.99" y="468.40" width="22.13" height="21.80" fill="rgb(200,200,252)" stroke="none" stroke-width="1" />
<rect x="457.99" y="490.10" width="22.13" height="21.80" fill="rgb(255,230,236)" stroke="none" stroke-width="1" />
<rect x="479.72" y="455.20" width="22.13" height="9.90" fill="#8AFF69" stroke="none" stroke-width="1" />
<rect x="479.72" y="468.40" width="22.13" height="21.80" fill="rgb(222,222,253)" stroke="none" stroke-width="1" />
<rect x="479.72" y="490.10" width="22.13" height="21.80" fill="rgb(80,95,255)" stroke="none" stroke-width="1" />
<rect x="501.45" y="455.20" width="22.13" height="9.90" fill="#8AFF69" stroke="none" stroke-width="1" />
<rect x="501.45" y="468.40" width="22.13" height="21.80" fill="rgb(195,195,252)" stroke="none" stroke-width="1" />
<rect x="501.45" y="490.10" width="22.13" height="21.80" fill="rgb(222,222,253)" stroke="none" stroke-width="1" />
<rect x="523.18" y="455.20" width="22.13" height="9.90" fill="#8AFF69" stroke="none" stroke-width="1" />
<rect x="523.18" y="468.40" width="22.13" height="21.80" fill="rgb(222,222,253)" stroke="none" stroke-width="1" />
<rect x="523.18" y="490.10" width="22.13" height="21.80" fill="rgb(225,225,253)" stroke="none" stroke-width="1" />
<rect x="544.91" y="455.20" width="22.13" height="9.90" fill="#8AFF69" stroke="none" stroke-width="1" />
<rect x="544.91" y="468.40" width="22.13" height="21.80" fill="rgb(225,225,253)" stroke="none" stroke-width="1" />
<rect x="544.91" y="490.10" width="22.13" height="21.80" fill="rgb(240,240,254)" stroke="none" stroke-width="1" />
<rect x="566.64" y="455.20" width="22.13" height="9.90" fill="#8AFF69" stroke="none" stroke-width="1" />
<rect x="566.64" y="468.40" width="22.13" height="21.80" fill="rgb(195,195,252)" stroke="none" stroke-width="1" />
<rect x="566.64" y="490.10" width="22.13" height="21.80" fill="rgb(245,245,254)" stroke="none" stroke-width="1" />
<rect x="588.37" y="455.20" width="21.73" height="9.90" fill="#7045FF" stroke="none" stroke-width="1" />
<rect x="588.37" y="468.40" width="21.73" height="21.80" fill="rgb(215,215,253)" stroke="none" stroke-width="1" />
<rect x="588.37" y="490.10" width="21.73" height="21.80" fill="rgb(248,248,255)" stroke="none" stroke-width="1" />
</g>
<text x="613.50" y="463.80" font-size="10" text-anchor="start" fill="#000" font-weight="bold" >Type</text>
<text x="612.90" y="482.10" font-size="10.3" text-anchor="start" fill="#000" >miR−296−5p</text>
<text x="612.90" y="503.90" font-size="10.3" text-anchor="start" fill="#000" >miR−660−3p</text>
<rect x="509.20" y="398.10" width="153.70" height="9.80" fill="url(#gD)" stroke="none" stroke-width="1" />
<text x="509.20" y="392.10" font-size="9" text-anchor="middle" fill="#000" >−3</text>
<text x="534.10" y="392.10" font-size="9" text-anchor="middle" fill="#000" >−2</text>
<text x="558.60" y="392.10" font-size="9" text-anchor="middle" fill="#000" >−1</text>
<text x="585.10" y="392.10" font-size="9" text-anchor="middle" fill="#000" >0</text>
<text x="610.60" y="392.10" font-size="9" text-anchor="middle" fill="#000" >1</text>
<text x="636.90" y="392.10" font-size="9" text-anchor="middle" fill="#000" >2</text>
<text x="661.80" y="392.10" font-size="9" text-anchor="middle" fill="#000" >3</text>
<line x1="208.09" y1="427.30" x2="229.82" y2="427.30" stroke="#000" stroke-width="0.8" />
<line x1="208.09" y1="426.90" x2="208.09" y2="453.90" stroke="#000" stroke-width="0.8" />
<line x1="229.82" y1="426.90" x2="229.82" y2="453.90" stroke="#000" stroke-width="0.8" />
<line x1="186.37" y1="423.90" x2="218.96" y2="423.90" stroke="#000" stroke-width="0.8" />
<line x1="186.37" y1="423.50" x2="186.37" y2="453.90" stroke="#000" stroke-width="0.8" />
<line x1="218.96" y1="423.50" x2="218.96" y2="427.30" stroke="#000" stroke-width="0.8" />
<line x1="251.56" y1="446.70" x2="273.28" y2="446.70" stroke="#000" stroke-width="0.8" />
<line x1="251.56" y1="446.30" x2="251.56" y2="453.90" stroke="#000" stroke-width="0.8" />
<line x1="273.28" y1="446.30" x2="273.28" y2="453.90" stroke="#000" stroke-width="0.8" />
<line x1="338.48" y1="444.90" x2="360.21" y2="444.90" stroke="#000" stroke-width="0.8" />
<line x1="338.48" y1="444.50" x2="338.48" y2="453.90" stroke="#000" stroke-width="0.8" />
<line x1="360.21" y1="444.50" x2="360.21" y2="453.90" stroke="#000" stroke-width="0.8" />
<line x1="316.75" y1="432.80" x2="349.34" y2="432.80" stroke="#000" stroke-width="0.8" />
<line x1="316.75" y1="432.40" x2="316.75" y2="453.90" stroke="#000" stroke-width="0.8" />
<line x1="349.34" y1="432.40" x2="349.34" y2="444.90" stroke="#000" stroke-width="0.8" />
<line x1="295.01" y1="431.80" x2="333.04" y2="431.80" stroke="#000" stroke-width="0.8" />
<line x1="295.01" y1="431.40" x2="295.01" y2="453.90" stroke="#000" stroke-width="0.8" />
<line x1="333.04" y1="431.40" x2="333.04" y2="432.80" stroke="#000" stroke-width="0.8" />
<line x1="262.42" y1="419.40" x2="314.03" y2="419.40" stroke="#000" stroke-width="0.8" />
<line x1="262.42" y1="419.00" x2="262.42" y2="446.70" stroke="#000" stroke-width="0.8" />
<line x1="314.03" y1="419.00" x2="314.03" y2="431.80" stroke="#000" stroke-width="0.8" />
<line x1="202.66" y1="411.80" x2="288.22" y2="411.80" stroke="#000" stroke-width="0.8" />
<line x1="202.66" y1="411.40" x2="202.66" y2="423.90" stroke="#000" stroke-width="0.8" />
<line x1="288.22" y1="411.40" x2="288.22" y2="419.40" stroke="#000" stroke-width="0.8" />
<line x1="447.12" y1="443.60" x2="468.86" y2="443.60" stroke="#000" stroke-width="0.8" />
<line x1="447.12" y1="443.20" x2="447.12" y2="453.90" stroke="#000" stroke-width="0.8" />
<line x1="468.86" y1="443.20" x2="468.86" y2="453.90" stroke="#000" stroke-width="0.8" />
<line x1="425.39" y1="442.00" x2="457.99" y2="442.00" stroke="#000" stroke-width="0.8" />
<line x1="425.39" y1="441.60" x2="425.39" y2="453.90" stroke="#000" stroke-width="0.8" />
<line x1="457.99" y1="441.60" x2="457.99" y2="443.60" stroke="#000" stroke-width="0.8" />
<line x1="403.66" y1="429.70" x2="441.69" y2="429.70" stroke="#000" stroke-width="0.8" />
<line x1="403.66" y1="429.30" x2="403.66" y2="453.90" stroke="#000" stroke-width="0.8" />
<line x1="441.69" y1="429.30" x2="441.69" y2="442.00" stroke="#000" stroke-width="0.8" />
<line x1="577.50" y1="447.00" x2="599.24" y2="447.00" stroke="#000" stroke-width="0.8" />
<line x1="577.50" y1="446.60" x2="577.50" y2="453.90" stroke="#000" stroke-width="0.8" />
<line x1="599.24" y1="446.60" x2="599.24" y2="453.90" stroke="#000" stroke-width="0.8" />
<line x1="555.78" y1="436.50" x2="588.37" y2="436.50" stroke="#000" stroke-width="0.8" />
<line x1="555.78" y1="436.10" x2="555.78" y2="453.90" stroke="#000" stroke-width="0.8" />
<line x1="588.37" y1="436.10" x2="588.37" y2="447.00" stroke="#000" stroke-width="0.8" />
<line x1="512.32" y1="441.00" x2="534.05" y2="441.00" stroke="#000" stroke-width="0.8" />
<line x1="512.32" y1="440.60" x2="512.32" y2="453.90" stroke="#000" stroke-width="0.8" />
<line x1="534.05" y1="440.60" x2="534.05" y2="453.90" stroke="#000" stroke-width="0.8" />
<line x1="523.18" y1="431.80" x2="572.07" y2="431.80" stroke="#000" stroke-width="0.8" />
<line x1="523.18" y1="431.40" x2="523.18" y2="441.00" stroke="#000" stroke-width="0.8" />
<line x1="572.07" y1="431.40" x2="572.07" y2="436.50" stroke="#000" stroke-width="0.8" />
<line x1="490.58" y1="423.40" x2="547.63" y2="423.40" stroke="#000" stroke-width="0.8" />
<line x1="490.58" y1="423.00" x2="490.58" y2="453.90" stroke="#000" stroke-width="0.8" />
<line x1="547.63" y1="423.00" x2="547.63" y2="431.80" stroke="#000" stroke-width="0.8" />
<line x1="422.68" y1="413.30" x2="519.11" y2="413.30" stroke="#000" stroke-width="0.8" />
<line x1="422.68" y1="412.90" x2="422.68" y2="429.70" stroke="#000" stroke-width="0.8" />
<line x1="519.11" y1="412.90" x2="519.11" y2="423.40" stroke="#000" stroke-width="0.8" />
<line x1="381.94" y1="401.80" x2="470.89" y2="401.80" stroke="#000" stroke-width="0.8" />
<line x1="381.94" y1="401.40" x2="381.94" y2="453.90" stroke="#000" stroke-width="0.8" />
<line x1="470.89" y1="401.40" x2="470.89" y2="413.30" stroke="#000" stroke-width="0.8" />
<line x1="245.44" y1="400.80" x2="426.41" y2="400.80" stroke="#000" stroke-width="0.8" />
<line x1="245.44" y1="400.40" x2="245.44" y2="411.80" stroke="#000" stroke-width="0.8" />
<line x1="426.41" y1="400.40" x2="426.41" y2="401.80" stroke="#000" stroke-width="0.8" />
<rect x="249.50" y="547.00" width="200.50" height="179.40" fill="none" stroke="#000" stroke-width="1" />
<line x1="256.40" y1="726.40" x2="256.40" y2="729.80" stroke="#000" stroke-width="1" />
<line x1="249.50" y1="720.30" x2="246.10" y2="720.30" stroke="#000" stroke-width="1" />
<text x="256.40" y="739.60" font-size="6.8" text-anchor="middle" fill="#000" >0.0</text>
<text x="241.20" y="720.30" font-size="6.8" text-anchor="middle" fill="#000" transform="rotate(-90 241.20 720.30)" >0.0</text>
<line x1="293.80" y1="726.40" x2="293.80" y2="729.80" stroke="#000" stroke-width="1" />
<line x1="249.50" y1="686.90" x2="246.10" y2="686.90" stroke="#000" stroke-width="1" />
<text x="293.80" y="739.60" font-size="6.8" text-anchor="middle" fill="#000" >0.2</text>
<text x="241.20" y="686.90" font-size="6.8" text-anchor="middle" fill="#000" transform="rotate(-90 241.20 686.90)" >0.2</text>
<line x1="331.20" y1="726.40" x2="331.20" y2="729.80" stroke="#000" stroke-width="1" />
<line x1="249.50" y1="653.50" x2="246.10" y2="653.50" stroke="#000" stroke-width="1" />
<text x="331.20" y="739.60" font-size="6.8" text-anchor="middle" fill="#000" >0.4</text>
<text x="241.20" y="653.50" font-size="6.8" text-anchor="middle" fill="#000" transform="rotate(-90 241.20 653.50)" >0.4</text>
<line x1="368.60" y1="726.40" x2="368.60" y2="729.80" stroke="#000" stroke-width="1" />
<line x1="249.50" y1="620.10" x2="246.10" y2="620.10" stroke="#000" stroke-width="1" />
<text x="368.60" y="739.60" font-size="6.8" text-anchor="middle" fill="#000" >0.6</text>
<text x="241.20" y="620.10" font-size="6.8" text-anchor="middle" fill="#000" transform="rotate(-90 241.20 620.10)" >0.6</text>
<line x1="406.00" y1="726.40" x2="406.00" y2="729.80" stroke="#000" stroke-width="1" />
<line x1="249.50" y1="586.70" x2="246.10" y2="586.70" stroke="#000" stroke-width="1" />
<text x="406.00" y="739.60" font-size="6.8" text-anchor="middle" fill="#000" >0.8</text>
<text x="241.20" y="586.70" font-size="6.8" text-anchor="middle" fill="#000" transform="rotate(-90 241.20 586.70)" >0.8</text>
<line x1="443.40" y1="726.40" x2="443.40" y2="729.80" stroke="#000" stroke-width="1" />
<line x1="249.50" y1="553.30" x2="246.10" y2="553.30" stroke="#000" stroke-width="1" />
<text x="443.40" y="739.60" font-size="6.8" text-anchor="middle" fill="#000" >1.0</text>
<text x="241.20" y="553.30" font-size="6.8" text-anchor="middle" fill="#000" transform="rotate(-90 241.20 553.30)" >1.0</text>
<line x1="256.40" y1="720.30" x2="443.40" y2="553.30" stroke="#000" stroke-width="2.2" />
<path d="M349.90,586.70 L387.30,586.70 L387.30,570.00" fill="none" stroke="#FF1A1A" stroke-width="1.7" />
<path d="M256.40,653.50 L275.10,653.50 L275.10,636.80 L293.80,636.80 L293.80,620.10 L312.50,620.10 L312.50,570.00 L387.30,570.00 L387.30,553.30" fill="none" stroke="#2B4DFF" stroke-width="1.7" />
<path d="M256.40,720.30 L256.40,586.70 L349.90,586.70 L349.90,553.30 L443.40,553.30" fill="none" stroke="#66FF00" stroke-width="1.7" />
<text x="361.00" y="751.80" font-size="9.5" text-anchor="middle" fill="#000" >False positive rate</text>
<text x="226.60" y="626.00" font-size="9.5" text-anchor="middle" fill="#000" transform="rotate(-90 226.60 626.00)" >True positive rate</text>
<text x="344.90" y="686.40" font-size="7.0" text-anchor="start" fill="#000" >Marker</text>
<text x="392.60" y="686.40" font-size="7.0" text-anchor="start" fill="#000" >AUC (95% CI)</text>
<line x1="343.10" y1="691.10" x2="446.70" y2="691.10" stroke="#000" stroke-width="1.1" />
<line x1="326.10" y1="699.20" x2="338.00" y2="699.20" stroke="#FF1A1A" stroke-width="1.7" />
<text x="344.90" y="700.80" font-size="7.0" text-anchor="start" fill="#000" >miR-296-5p</text>
<text x="392.60" y="700.80" font-size="7.0" text-anchor="start" fill="#000" >0.86 (0.65 - 1)</text>
<line x1="326.10" y1="709.40" x2="338.00" y2="709.40" stroke="#2B4DFF" stroke-width="1.7" />
<text x="344.90" y="711.00" font-size="7.0" text-anchor="start" fill="#000" >miR-660-3p</text>
<text x="392.60" y="711.00" font-size="7.0" text-anchor="start" fill="#000" >0.81 (0.6 - 0.96)</text>
<line x1="326.10" y1="719.10" x2="338.00" y2="719.10" stroke="#66FF00" stroke-width="1.7" />
<text x="344.90" y="720.70" font-size="7.0" text-anchor="start" fill="#000" >combined</text>
<text x="392.60" y="720.70" font-size="7.0" text-anchor="start" fill="#000" >0.9 (0.72 - 1)</text>
<rect x="492.00" y="546.10" width="64.30" height="61.40" fill="#C6FFB3" stroke="none" stroke-width="1" />
<rect x="556.30" y="546.10" width="64.20" height="61.40" fill="#FFB3D9" stroke="none" stroke-width="1" />
<rect x="620.50" y="546.10" width="64.10" height="61.40" fill="#EEF1F2" stroke="none" stroke-width="1" />
<rect x="492.00" y="607.50" width="64.30" height="61.60" fill="#FFB3D9" stroke="none" stroke-width="1" />
<rect x="556.30" y="607.50" width="64.20" height="61.60" fill="#C6FFB3" stroke="none" stroke-width="1" />
<rect x="620.50" y="607.50" width="64.10" height="61.60" fill="#EEF1F2" stroke="none" stroke-width="1" />
<rect x="492.00" y="669.10" width="64.30" height="61.80" fill="#EEF1F2" stroke="none" stroke-width="1" />
<rect x="556.30" y="669.10" width="64.20" height="61.80" fill="#EEF1F2" stroke="none" stroke-width="1" />
<rect x="620.50" y="669.10" width="64.10" height="61.80" fill="#C9D3D3" stroke="none" stroke-width="1" />
<line x1="492.00" y1="545.60" x2="492.00" y2="731.40" stroke="#111" stroke-width="1.0" />
<line x1="556.30" y1="545.60" x2="556.30" y2="731.40" stroke="#111" stroke-width="1.0" />
<line x1="620.50" y1="545.60" x2="620.50" y2="731.40" stroke="#111" stroke-width="1.0" />
<line x1="684.60" y1="545.60" x2="684.60" y2="731.40" stroke="#111" stroke-width="1.0" />
<line x1="491.50" y1="546.10" x2="685.10" y2="546.10" stroke="#111" stroke-width="1.0" />
<line x1="491.50" y1="607.50" x2="685.10" y2="607.50" stroke="#111" stroke-width="1.0" />
<line x1="491.50" y1="669.10" x2="685.10" y2="669.10" stroke="#111" stroke-width="1.0" />
<line x1="491.50" y1="730.90" x2="685.10" y2="730.90" stroke="#111" stroke-width="1.0" />
<text x="524.15" y="573.70" font-size="8.8" text-anchor="middle" fill="#000" >10</text>
<text x="524.15" y="584.10" font-size="8.8" text-anchor="middle" fill="#000" >50%</text>
<text x="588.40" y="573.70" font-size="8.8" text-anchor="middle" fill="#000" >2</text>
<text x="588.40" y="584.10" font-size="8.8" text-anchor="middle" fill="#000" >10%</text>
<text x="652.55" y="574.10" font-size="8.8" text-anchor="middle" fill="#44C82C" >83.3%</text>
<text x="652.55" y="584.20" font-size="8.8" text-anchor="middle" fill="#FF3B3B" >16.7%</text>
<text x="524.15" y="635.20" font-size="8.8" text-anchor="middle" fill="#000" >0</text>
<text x="524.15" y="645.60" font-size="8.8" text-anchor="middle" fill="#000" >0%</text>
<text x="588.40" y="635.20" font-size="8.8" text-anchor="middle" fill="#000" >8</text>
<text x="588.40" y="645.60" font-size="8.8" text-anchor="middle" fill="#000" >40%</text>
<text x="652.55" y="635.60" font-size="8.8" text-anchor="middle" fill="#44C82C" >100%</text>
<text x="652.55" y="645.70" font-size="8.8" text-anchor="middle" fill="#FF3B3B" >0%</text>
<text x="524.15" y="697.30" font-size="8.8" text-anchor="middle" fill="#44C82C" >100%</text>
<text x="524.15" y="707.40" font-size="8.8" text-anchor="middle" fill="#FF3B3B" >0%</text>
<text x="588.40" y="697.30" font-size="8.8" text-anchor="middle" fill="#44C82C" >80%</text>
<text x="588.40" y="707.40" font-size="8.8" text-anchor="middle" fill="#FF3B3B" >20%</text>
<text x="652.55" y="697.30" font-size="8.8" text-anchor="middle" fill="#44C82C" >90%</text>
<text x="652.55" y="707.40" font-size="8.8" text-anchor="middle" fill="#FF3B3B" >10%</text>
<text x="516.70" y="540.80" font-size="8.8" text-anchor="middle" fill="#000" >Control</text>
<text x="583.20" y="540.80" font-size="8.8" text-anchor="middle" fill="#000" >AMI</text>
<text x="486.40" y="583.30" font-size="8.8" text-anchor="middle" fill="#000" transform="rotate(-90 486.40 583.30)" >Control</text>
<text x="486.40" y="643.80" font-size="8.8" text-anchor="middle" fill="#000" transform="rotate(-90 486.40 643.80)" >AMI</text>
<text x="471.60" y="638.80" font-size="9.5" text-anchor="middle" fill="#000" transform="rotate(-90 471.60 638.80)" >Predicted class</text>
<text x="588.30" y="749.30" font-size="9.65" text-anchor="middle" fill="#000" >True class</text>
<rect x="38.90" y="546.10" width="166.40" height="190.30" fill="none" stroke="#000" stroke-width="1.1" />
<line x1="36.10" y1="580.30" x2="38.90" y2="580.30" stroke="#000" stroke-width="1" />
<text x="33.00" y="584.10" font-size="10.5" text-anchor="end" fill="#262626" >10</text>
<line x1="36.10" y1="635.20" x2="38.90" y2="635.20" stroke="#000" stroke-width="1" />
<text x="33.00" y="639.00" font-size="10.5" text-anchor="end" fill="#262626" >8</text>
<line x1="36.10" y1="690.10" x2="38.90" y2="690.10" stroke="#000" stroke-width="1" />
<text x="33.00" y="693.90" font-size="10.5" text-anchor="end" fill="#262626" >6</text>
<line x1="83.50" y1="736.40" x2="83.50" y2="739.00" stroke="#000" stroke-width="1" />
<line x1="159.40" y1="736.40" x2="159.40" y2="739.00" stroke="#000" stroke-width="1" />
<text x="81.00" y="751.80" font-size="9.55" text-anchor="middle" fill="#000" >miR−296−5p</text>
<text x="158.50" y="751.50" font-size="9.55" text-anchor="middle" fill="#000" >miR−660−3p</text>
<text x="8.60" y="642.50" font-size="10.65" text-anchor="middle" fill="#000" transform="rotate(-90 8.60 642.50)" >miRNA circulating level</text>
<text x="22.60" y="641.00" font-size="10.8" text-anchor="middle" fill="#000" transform="rotate(-90 22.60 641.00)" >(VST Value)</text>
<path d="M74.00,565.60 C74.05,566.33 74.10,568.32 74.30,570.00 C74.50,571.68 74.73,574.12 75.20,575.70 C75.67,577.28 76.33,578.27 77.10,579.50 C77.87,580.73 79.02,581.93 79.80,583.10 C80.58,584.27 81.23,585.40 81.80,586.50 C82.37,587.60 82.82,588.62 83.20,589.70 C83.58,590.78 83.90,591.88 84.10,593.00 C84.30,594.12 84.45,595.23 84.40,596.40 C84.35,597.57 84.08,598.90 83.80,600.00 C83.52,601.10 83.32,601.83 82.70,603.00 C82.08,604.17 81.12,605.62 80.10,607.00 C79.08,608.38 77.63,610.05 76.60,611.30 C75.57,612.55 74.73,613.40 73.90,614.50 C73.07,615.60 72.30,616.82 71.60,617.90 C70.90,618.98 70.25,619.90 69.70,621.00 C69.15,622.10 68.63,623.42 68.30,624.50 C67.97,625.58 67.72,626.58 67.70,627.50 C67.68,628.42 67.95,629.12 68.20,630.00 C68.45,630.88 68.68,631.80 69.20,632.80 C69.72,633.80 70.55,634.90 71.30,636.00 C72.05,637.10 73.17,638.40 73.70,639.40 C74.23,640.40 74.35,641.17 74.50,642.00 C74.65,642.83 74.63,643.65 74.60,644.40 C74.57,645.15 74.45,645.83 74.30,646.50 C74.15,647.17 73.80,648.08 73.70,648.40 L59.30,648.40 C59.20,648.08 58.85,647.17 58.70,646.50 C58.55,645.83 58.43,645.15 58.40,644.40 C58.37,643.65 58.35,642.83 58.50,642.00 C58.65,641.17 58.77,640.40 59.30,639.40 C59.83,638.40 60.95,637.10 61.70,636.00 C62.45,634.90 63.28,633.80 63.80,632.80 C64.32,631.80 64.55,630.88 64.80,630.00 C65.05,629.12 65.32,628.42 65.30,627.50 C65.28,626.58 65.03,625.58 64.70,624.50 C64.37,623.42 63.85,622.10 63.30,621.00 C62.75,619.90 62.10,618.98 61.40,617.90 C60.70,616.82 59.93,615.60 59.10,614.50 C58.27,613.40 57.43,612.55 56.40,611.30 C55.37,610.05 53.92,608.38 52.90,607.00 C51.88,605.62 50.92,604.17 50.30,603.00 C49.68,601.83 49.48,601.10 49.20,600.00 C48.92,598.90 48.65,597.57 48.60,596.40 C48.55,595.23 48.70,594.12 48.90,593.00 C49.10,591.88 49.42,590.78 49.80,589.70 C50.18,588.62 50.63,587.60 51.20,586.50 C51.77,585.40 52.42,584.27 53.20,583.10 C53.98,581.93 55.13,580.73 55.90,579.50 C56.67,578.27 57.33,577.28 57.80,575.70 C58.27,574.12 58.50,571.68 58.70,570.00 C58.90,568.32 58.95,566.33 59.00,565.60 Z" fill="#7045FF" stroke="#1a1a1a" stroke-width="1.25" stroke-linejoin="round"/>
<path d="M108.40,611.80 C108.80,612.30 110.03,613.78 110.80,614.80 C111.57,615.82 112.37,616.87 113.00,617.90 C113.63,618.93 114.10,619.90 114.60,621.00 C115.10,622.10 115.57,623.25 116.00,624.50 C116.43,625.75 116.90,627.12 117.20,628.50 C117.50,629.88 117.80,631.25 117.80,632.80 C117.80,634.35 117.48,636.43 117.20,637.80 C116.92,639.17 116.52,639.90 116.10,641.00 C115.68,642.10 115.25,643.15 114.70,644.40 C114.15,645.65 113.43,647.12 112.80,648.50 C112.17,649.88 111.45,651.45 110.90,652.70 C110.35,653.95 109.97,654.90 109.50,656.00 C109.03,657.10 108.52,658.30 108.10,659.30 C107.68,660.30 107.35,661.03 107.00,662.00 C106.65,662.97 106.17,664.58 106.00,665.10 L95.20,665.10 C95.03,664.58 94.55,662.97 94.20,662.00 C93.85,661.03 93.52,660.30 93.10,659.30 C92.68,658.30 92.17,657.10 91.70,656.00 C91.23,654.90 90.85,653.95 90.30,652.70 C89.75,651.45 89.03,649.88 88.40,648.50 C87.77,647.12 87.05,645.65 86.50,644.40 C85.95,643.15 85.52,642.10 85.10,641.00 C84.68,639.90 84.28,639.17 84.00,637.80 C83.72,636.43 83.40,634.35 83.40,632.80 C83.40,631.25 83.70,629.88 84.00,628.50 C84.30,627.12 84.77,625.75 85.20,624.50 C85.63,623.25 86.10,622.10 86.60,621.00 C87.10,619.90 87.57,618.93 88.20,617.90 C88.83,616.87 89.63,615.82 90.40,614.80 C91.17,613.78 92.40,612.30 92.80,611.80 Z" fill="#8AFF69" stroke="#1a1a1a" stroke-width="1.25" stroke-linejoin="round"/>
<path d="M146.30,622.90 C146.18,623.25 145.78,624.23 145.60,625.00 C145.42,625.77 145.18,626.50 145.20,627.50 C145.22,628.50 145.48,629.70 145.70,631.00 C145.92,632.30 146.50,633.97 146.50,635.30 C146.50,636.63 146.12,637.80 145.70,639.00 C145.28,640.20 144.45,641.42 144.00,642.50 C143.55,643.58 143.02,644.50 143.00,645.50 C142.98,646.50 143.37,647.48 143.90,648.50 C144.43,649.52 145.18,650.52 146.20,651.60 C147.22,652.68 148.63,653.95 150.00,655.00 C151.37,656.05 153.12,657.07 154.40,657.90 C155.68,658.73 156.93,659.45 157.70,660.00 C158.47,660.55 158.68,660.82 159.00,661.20 C159.32,661.58 159.48,661.93 159.60,662.30 C159.72,662.67 159.75,663.03 159.70,663.40 C159.65,663.77 159.58,664.10 159.30,664.50 C159.02,664.90 158.93,665.02 158.00,665.80 C157.07,666.58 154.92,668.17 153.70,669.20 C152.48,670.23 151.60,671.03 150.70,672.00 C149.80,672.97 148.98,673.83 148.30,675.00 C147.62,676.17 146.88,678.33 146.60,679.00 L138.20,679.00 C137.92,678.33 137.18,676.17 136.50,675.00 C135.82,673.83 135.00,672.97 134.10,672.00 C133.20,671.03 132.32,670.23 131.10,669.20 C129.88,668.17 127.73,666.58 126.80,665.80 C125.87,665.02 125.78,664.90 125.50,664.50 C125.22,664.10 125.15,663.77 125.10,663.40 C125.05,663.03 125.08,662.67 125.20,662.30 C125.32,661.93 125.48,661.58 125.80,661.20 C126.12,660.82 126.33,660.55 127.10,660.00 C127.87,659.45 129.12,658.73 130.40,657.90 C131.68,657.07 133.43,656.05 134.80,655.00 C136.17,653.95 137.58,652.68 138.60,651.60 C139.62,650.52 140.37,649.52 140.90,648.50 C141.43,647.48 141.82,646.50 141.80,645.50 C141.78,644.50 141.25,643.58 140.80,642.50 C140.35,641.42 139.52,640.20 139.10,639.00 C138.68,637.80 138.30,636.63 138.30,635.30 C138.30,633.97 138.88,632.30 139.10,631.00 C139.32,629.70 139.58,628.50 139.60,627.50 C139.62,626.50 139.38,625.77 139.20,625.00 C139.02,624.23 138.62,623.25 138.50,622.90 Z" fill="#7045FF" stroke="#1a1a1a" stroke-width="1.25" stroke-linejoin="round"/>
<path d="M189.50,661.60 C189.93,662.00 191.45,662.93 192.10,664.00 C192.75,665.07 193.15,666.75 193.40,668.00 C193.65,669.25 193.72,670.33 193.60,671.50 C193.48,672.67 193.35,673.75 192.70,675.00 C192.05,676.25 190.93,677.58 189.70,679.00 C188.47,680.42 186.73,682.00 185.30,683.50 C183.87,685.00 182.25,686.58 181.10,688.00 C179.95,689.42 179.07,690.67 178.40,692.00 C177.73,693.33 177.38,693.67 177.10,696.00 C176.82,698.33 176.75,703.00 176.70,706.00 C176.65,709.00 176.67,712.00 176.80,714.00 C176.93,716.00 177.17,716.50 177.50,718.00 C177.83,719.50 178.38,721.28 178.80,723.00 C179.22,724.72 179.80,727.42 180.00,728.30 L173.00,728.30 C173.20,727.42 173.78,724.72 174.20,723.00 C174.62,721.28 175.17,719.50 175.50,718.00 C175.83,716.50 176.07,716.00 176.20,714.00 C176.33,712.00 176.35,709.00 176.30,706.00 C176.25,703.00 176.18,698.33 175.90,696.00 C175.62,693.67 175.27,693.33 174.60,692.00 C173.93,690.67 173.05,689.42 171.90,688.00 C170.75,686.58 169.13,685.00 167.70,683.50 C166.27,682.00 164.53,680.42 163.30,679.00 C162.07,677.58 160.95,676.25 160.30,675.00 C159.65,673.75 159.52,672.67 159.40,671.50 C159.28,670.33 159.35,669.25 159.60,668.00 C159.85,666.75 160.25,665.07 160.90,664.00 C161.55,662.93 163.07,662.00 163.50,661.60 Z" fill="#8AFF69" stroke="#1a1a1a" stroke-width="1.25" stroke-linejoin="round"/>
<line x1="66.40" y1="554.70" x2="66.40" y2="589.20" stroke="#111" stroke-width="1.05" />
<line x1="66.40" y1="554.70" x2="100.60" y2="554.70" stroke="#111" stroke-width="1.05" />
<line x1="100.60" y1="554.70" x2="100.60" y2="665.20" stroke="#111" stroke-width="1.05" />
<line x1="142.30" y1="605.60" x2="142.30" y2="623.00" stroke="#111" stroke-width="1.05" />
<line x1="142.30" y1="605.60" x2="176.50" y2="605.60" stroke="#111" stroke-width="1.05" />
<line x1="176.50" y1="605.60" x2="176.50" y2="683.60" stroke="#111" stroke-width="1.05" />
<line x1="66.50" y1="608.70" x2="66.50" y2="610.40" stroke="#111" stroke-width="1.05" />
<line x1="142.30" y1="668.20" x2="142.30" y2="679.20" stroke="#111" stroke-width="1.05" />
<text x="84.60" y="557.00" font-size="12" text-anchor="middle" fill="#000" >**</text>
<text x="160.40" y="607.90" font-size="12" text-anchor="middle" fill="#000" >*</text>
<rect x="63.50" y="589.20" width="6.10" height="19.50" fill="#6670E6" stroke="#1a1a1a" stroke-width="0.9" />
<line x1="63.50" y1="599.20" x2="69.60" y2="599.20" stroke="#1a1a1a" stroke-width="2.0" />
<path d="M66.55,600.2 L68.55,602.2 L66.55,604.2 L64.55,602.2 Z" fill="#000"/>
<rect x="97.60" y="627.50" width="6.10" height="21.00" fill="#A5C94F" stroke="#1a1a1a" stroke-width="0.9" />
<line x1="97.60" y1="635.60" x2="103.70" y2="635.60" stroke="#1a1a1a" stroke-width="2.0" />
<path d="M100.65,634.7 L102.65,636.7 L100.65,638.7 L98.65,636.7 Z" fill="#000"/>
<rect x="139.40" y="657.50" width="6.10" height="10.80" fill="#6670E6" stroke="#1a1a1a" stroke-width="0.9" />
<line x1="139.40" y1="662.40" x2="145.50" y2="662.40" stroke="#1a1a1a" stroke-width="2.0" />
<path d="M142.45,656.5 L144.45,658.5 L142.45,660.5 L140.45,658.5 Z" fill="#000"/>
<rect x="173.55" y="665.50" width="6.10" height="14.10" fill="#A5C94F" stroke="#1a1a1a" stroke-width="0.9" />
<line x1="173.55" y1="672.20" x2="179.65" y2="672.20" stroke="#1a1a1a" stroke-width="2.0" />
<path d="M176.6,675.0 L178.6,677.0 L176.6,679.0 L174.6,677.0 Z" fill="#000"/>
</svg>
</body></html>
